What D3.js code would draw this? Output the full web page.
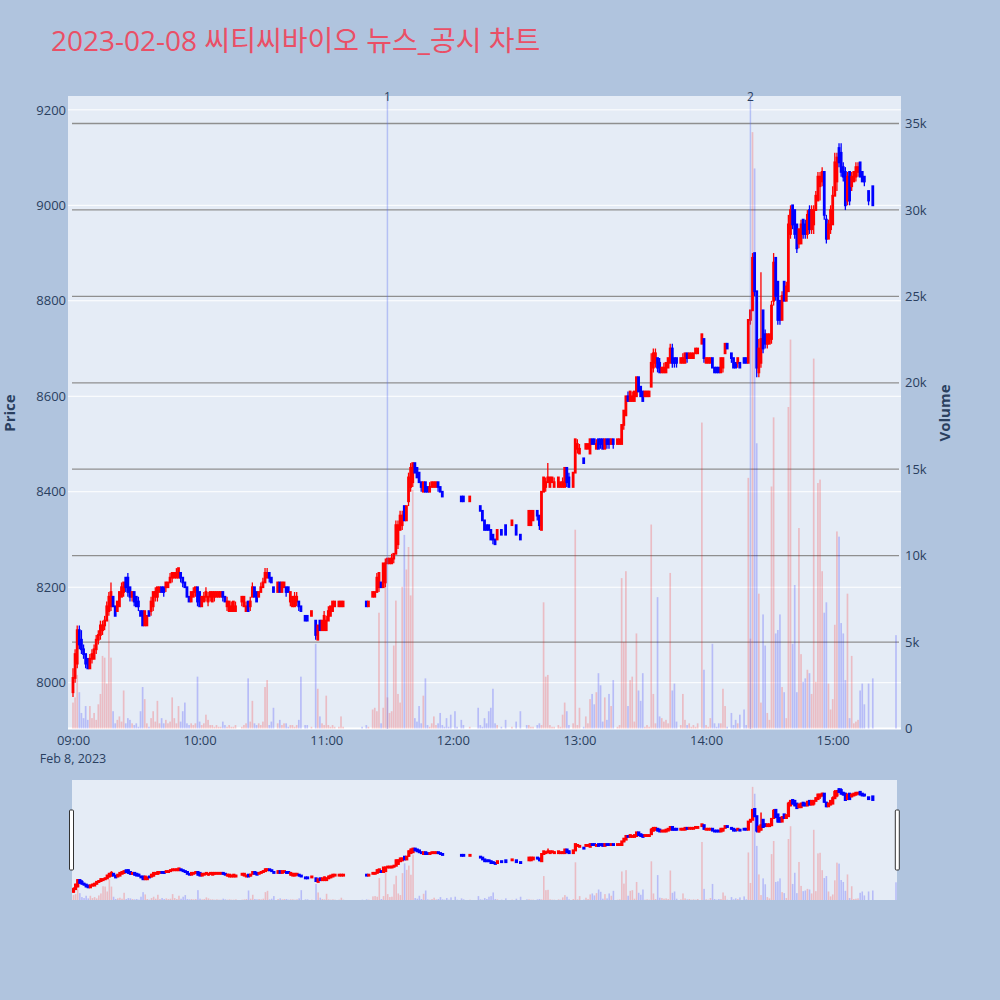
<!DOCTYPE html>
<html><head><meta charset="utf-8">
<script src="https://cdn.jsdelivr.net/npm/d3@7"></script>
<style>
html,body{margin:0;padding:0;background:#b0c4de;}
svg{display:block;font-family:"Open Sans","Noto Sans CJK KR",sans-serif;}
</style></head>
<body><svg id="chart" width="1000" height="1000"></svg>
<script>
// ---- DATA: [time, open, high, low, close, volume] per minute, split by hour ----
const h09 = [
["09:00",7980,8030,7970,8010,1500],["09:01",8010,8070,8000,8060,1800],["09:02",8040,8120,8030,8110,3100],
["09:03",8110,8120,8070,8080,2100],["09:04",8090,8110,8060,8070,900],["09:05",8070,8080,8050,8060,600],
["09:06",8060,8060,8030,8040,1300],["09:07",8050,8050,8030,8030,500],["09:08",8030,8060,8030,8050,1300],
["09:09",8050,8070,8040,8060,600],["09:10",8050,8080,8050,8070,900],["09:11",8070,8100,8060,8090,500],
["09:12",8090,8110,8080,8100,1400],["09:13",8100,8130,8090,8120,2000],["09:14",8110,8130,8100,8120,4200],
["09:15",8120,8140,8110,8130,4100],["09:16",8130,8170,8130,8160,2600],["09:17",8150,8190,8140,8180,6300],
["09:18",8160,8210,8150,8190,4100],["09:19",8180,8180,8160,8160,1000],["09:20",8160,8160,8140,8140,300],
["09:21",8150,8170,8150,8170,500],["09:22",8160,8190,8160,8190,700],["09:23",8180,8210,8180,8200,400],
["09:24",8190,8210,8180,8210,2200],["09:25",8220,8220,8190,8200,300],["09:26",8220,8230,8180,8190,600],
["09:27",8200,8200,8170,8180,500],["09:28",8180,8190,8170,8190,300],["09:29",8190,8190,8160,8170,200],
["09:30",8180,8180,8160,8160,300],["09:31",8170,8180,8150,8160,100],["09:32",8150,8150,8140,8140,1000],
["09:33",8150,8150,8120,8120,2400],["09:34",8120,8150,8120,8150,1700],["09:35",8120,8140,8120,8140,300],
["09:36",8150,8150,8140,8140,100],["09:37",8150,8180,8140,8170,600],["09:38",8160,8190,8150,8190,1000],
["09:39",8180,8200,8170,8190,400],["09:40",8180,8200,8170,8200,1600],["09:41",8190,8200,8190,8200,300],
["09:42",8200,8200,8190,8190,600],["09:43",8200,8200,8180,8190,300],["09:44",8200,8210,8190,8210,500],
["09:45",8200,8210,8200,8210,300],["09:46",8210,8230,8210,8220,400],["09:47",8220,8230,8210,8230,1800],
["09:48",8220,8230,8220,8230,600],["09:49",8220,8240,8220,8230,300],["09:50",8220,8240,8220,8240,1300],
["09:51",8230,8230,8210,8220,400],["09:52",8220,8220,8200,8210,1000],["09:53",8210,8210,8200,8200,1500],
["09:54",8200,8200,8180,8180,300],["09:55",8180,8180,8170,8170,200],["09:56",8170,8190,8170,8190,300],
["09:57",8180,8200,8180,8190,200],["09:58",8190,8200,8180,8200,300],["09:59",8200,8200,8160,8170,3000]
];
const h10 = [
["10:00",8190,8190,8160,8160,400],["10:01",8160,8180,8160,8180,200],["10:02",8170,8190,8170,8180,300],
["10:03",8180,8200,8170,8190,800],["10:04",8170,8190,8160,8180,500],["10:05",8180,8190,8170,8190,200],
["10:06",8170,8190,8170,8190,200],["10:07",8180,8190,8170,8190,100],["10:08",8180,8190,8180,8190,200],
["10:09",8180,8190,8180,8190,100],["10:10",8180,8190,8180,8190,100],["10:11",8190,8190,8170,8180,400],
["10:12",8180,8180,8170,8170,200],["10:13",8160,8180,8150,8170,100],["10:14",8150,8170,8150,8170,200],
["10:15",8150,8170,8150,8160,100],["10:16",8150,8170,8150,8170,100],["10:17",8150,8170,8150,8160,200],
["10:20",8170,8180,8160,8180,100],["10:21",8160,8180,8160,8180,200],["10:22",8150,8170,8150,8160,300],
["10:23",8170,8170,8150,8150,2900],["10:24",8160,8180,8150,8170,400],["10:25",8180,8210,8180,8200,1600],
["10:26",8200,8200,8180,8180,300],["10:27",8190,8190,8170,8170,200],["10:28",8180,8190,8180,8190,300],
["10:29",8190,8210,8190,8200,200],["10:30",8200,8220,8200,8210,400],["10:31",8210,8240,8210,8230,2400],
["10:32",8220,8240,8220,8230,2800],["10:33",8230,8230,8210,8220,200],["10:34",8220,8220,8210,8210,400],
["10:35",8200,8200,8190,8190,1200],["10:37",8190,8210,8190,8210,300],["10:38",8210,8210,8190,8190,500],
["10:39",8190,8210,8190,8210,200],["10:40",8200,8210,8200,8210,300],["10:41",8200,8200,8180,8190,300],
["10:42",8200,8200,8190,8190,100],["10:43",8170,8190,8160,8190,200],["10:44",8160,8180,8160,8180,200],
["10:45",8160,8190,8160,8180,100],["10:46",8170,8190,8160,8180,200],["10:47",8170,8170,8150,8160,500],
["10:48",8160,8160,8150,8150,3000],["10:50",8140,8140,8130,8130,200],["10:51",8140,8140,8130,8130,200],
["10:53",8140,8150,8140,8150,100],["10:55",8130,8130,8090,8100,4900],["10:56",8090,8120,8090,8120,2300],
["10:57",8130,8130,8110,8110,700],["10:58",8110,8130,8110,8130,300],["10:59",8110,8150,8110,8140,200]
];
const h11 = [
["11:00",8110,8140,8110,8130,1900],["11:01",8130,8160,8130,8150,200],["11:02",8140,8160,8140,8160,100],
["11:03",8150,8170,8150,8170,200],["11:04",8160,8170,8160,8170,100],["11:06",8160,8170,8160,8170,100],
["11:07",8160,8170,8160,8170,700],["11:08",8160,8170,8160,8170,100],["11:17",8150,8150,8150,8150,100],
["11:19",8170,8170,8160,8160,200],["11:20",8160,8170,8160,8170,100],["11:22",8180,8190,8180,8190,1100],
["11:23",8180,8190,8180,8190,1200],["11:24",8190,8230,8190,8220,1000],["11:25",8200,8230,8190,8230,6700],
["11:26",8210,8210,8200,8200,300],["11:27",8200,8250,8200,8250,1200],["11:28",8210,8260,8200,8250,8400],
["11:29",8250,8260,8250,8260,1800],["11:30",8250,8260,8250,8260,900],["11:31",8250,8270,8250,8260,1000],
["11:32",8260,8270,8250,8270,4800],["11:33",8270,8340,8270,8330,7400],["11:34",8290,8340,8280,8330,2000],
["11:35",8320,8360,8320,8350,1500],["11:36",8330,8360,8320,8350,8200],["11:37",8370,8370,8340,8340,11200],
["11:38",8340,8370,8340,8370,9200],["11:39",8380,8440,8370,8430,10500],["11:40",8410,8460,8400,8450,7700],
["11:41",8420,8460,8410,8460,13800],["11:42",8460,8460,8440,8440,600],["11:43",8450,8450,8430,8430,400],
["11:44",8440,8440,8420,8420,1300],["11:45",8420,8420,8400,8410,300],["11:46",8400,8420,8400,8420,1900],
["11:47",8420,8420,8400,8400,2900],["11:48",8410,8410,8400,8400,200],["11:49",8400,8420,8400,8410,100],
["11:50",8410,8420,8410,8420,300],["11:51",8410,8420,8410,8420,700],["11:52",8410,8420,8410,8420,200],
["11:53",8420,8420,8400,8410,300],["11:54",8410,8410,8400,8400,900],["11:55",8400,8400,8390,8390,200],
["11:56",8400,8400,8400,8400,100],["11:57",8400,8400,8400,8400,600],["11:58",8400,8400,8400,8400,100],
["11:59",8400,8400,8400,8400,800]
];
const h12 = [
["12:01",8390,8390,8390,8390,1000],["12:02",8390,8390,8390,8390,100],["12:04",8390,8390,8380,8380,500],
["12:05",8390,8390,8380,8380,200],["12:08",8380,8390,8380,8390,100],["12:12",8380,8380,8380,8380,1200],
["12:13",8370,8370,8360,8360,200],["12:14",8360,8360,8340,8340,100],["12:15",8340,8340,8320,8320,600],
["12:16",8330,8330,8320,8320,300],["12:17",8330,8330,8320,8320,1000],["12:18",8320,8320,8300,8300,1200],
["12:19",8310,8310,8290,8300,2300],["12:20",8300,8300,8290,8290,300],["12:21",8300,8320,8300,8320,200],
["12:23",8320,8320,8310,8310,100],["12:25",8330,8330,8310,8310,500],["12:28",8330,8340,8330,8340,100],
["12:30",8330,8330,8310,8310,400],["12:32",8310,8310,8300,8300,1000],["12:35",8300,8300,8300,8300,200],
["12:36",8330,8360,8330,8360,200],["12:37",8330,8360,8330,8360,100],["12:38",8340,8360,8340,8360,100],
["12:40",8360,8360,8340,8350,200],["12:41",8350,8350,8320,8330,300],["12:42",8320,8400,8320,8400,200],
["12:43",8400,8430,8400,8430,7300],["12:44",8410,8430,8400,8420,3000],["12:45",8420,8460,8420,8430,3100],
["12:46",8410,8430,8410,8430,200],["12:47",8420,8430,8420,8430,100],["12:48",8410,8430,8410,8420,100],
["12:50",8410,8430,8410,8430,200],["12:51",8410,8420,8410,8420,100],["12:52",8410,8430,8410,8420,800],
["12:53",8410,8450,8410,8450,1500],["12:54",8450,8450,8410,8420,1000],["12:55",8430,8440,8410,8410,200],
["12:57",8410,8440,8410,8440,300],["12:58",8440,8510,8440,8510,11500],["12:59",8490,8510,8480,8500,200]
];
const h13 = [
["13:00",8480,8500,8480,8490,1200],["13:02",8470,8470,8460,8460,100],["13:03",8490,8500,8490,8500,700],
["13:04",8490,8500,8490,8500,300],["13:05",8480,8510,8480,8510,1700],["13:06",8510,8510,8500,8500,2000],
["13:07",8510,8510,8500,8500,1400],["13:08",8490,8510,8490,8500,2100],["13:09",8510,8510,8490,8490,3200],
["13:10",8510,8510,8490,8500,2500],["13:11",8510,8510,8490,8490,400],["13:12",8490,8510,8490,8510,1800],
["13:13",8510,8510,8490,8500,500],["13:14",8510,8510,8490,8500,2000],["13:15",8500,8510,8500,8510,1300],
["13:16",8510,8510,8490,8500,2800],["13:18",8500,8510,8500,8510,100],["13:19",8500,8510,8500,8510,200],
["13:20",8500,8540,8500,8540,8700],["13:21",8540,8570,8530,8570,5000],["13:22",8560,8600,8560,8600,9100],
["13:23",8600,8610,8590,8590,1300],["13:24",8590,8610,8590,8610,2800],["13:25",8590,8610,8590,8600,3000],
["13:26",8590,8610,8590,8610,400],["13:27",8600,8640,8600,8640,5500],["13:28",8640,8640,8610,8610,2200],
["13:29",8620,8620,8600,8600,1600],["13:30",8610,8610,8590,8590,3200],["13:31",8600,8610,8600,8610,100],
["13:32",8600,8610,8600,8610,200],["13:33",8600,8610,8600,8610,100],["13:34",8620,8690,8620,8670,11800],
["13:35",8660,8700,8650,8690,2000],["13:36",8670,8700,8660,8690,300],["13:37",8680,8680,8650,8660,7600],
["13:38",8670,8680,8650,8650,700],["13:39",8650,8660,8650,8660,600],["13:40",8650,8670,8650,8660,400],
["13:41",8650,8670,8650,8670,500],["13:42",8660,8680,8660,8680,300],["13:43",8670,8710,8670,8700,9000],
["13:44",8700,8710,8660,8670,2200],["13:45",8680,8680,8660,8670,2600],["13:46",8680,8680,8660,8670,400],
["13:48",8670,8680,8670,8680,200],["13:49",8670,8690,8670,8680,2000],["13:50",8670,8690,8670,8690,500],
["13:51",8690,8690,8670,8680,200],["13:52",8680,8690,8680,8690,300],["13:53",8680,8690,8680,8690,100],
["13:54",8680,8690,8680,8690,200],["13:55",8690,8700,8690,8700,100],["13:56",8690,8700,8690,8700,300],
["13:58",8710,8730,8710,8730,17700],["13:59",8720,8720,8670,8680,3400]
];
const h14 = [
["14:00",8670,8680,8670,8680,200],["14:01",8670,8680,8670,8680,100],["14:02",8670,8680,8670,8680,600],
["14:03",8680,8680,8660,8660,4900],["14:04",8660,8660,8650,8650,300],["14:05",8660,8660,8650,8650,100],
["14:06",8660,8660,8650,8650,300],["14:07",8650,8680,8650,8680,300],["14:08",8660,8680,8650,8680,2300],
["14:09",8690,8710,8690,8710,1300],["14:10",8710,8710,8700,8700,100],["14:12",8690,8690,8670,8680,900],
["14:13",8680,8680,8660,8660,200],["14:14",8670,8670,8660,8660,500],["14:15",8670,8680,8660,8680,300],
["14:16",8670,8670,8660,8660,800],["14:18",8680,8680,8670,8670,1100],["14:19",8680,8680,8670,8670,200],
["14:20",8670,8760,8670,8760,14500],["14:21",8760,8780,8750,8780,5200],["14:22",8780,8900,8780,8890,34500],
["14:23",8900,8900,8810,8820,32400],["14:24",8820,8820,8640,8660,16500],["14:25",8650,8720,8640,8700,7800],
["14:26",8670,8860,8660,8720,1500],["14:27",8780,8780,8690,8700,6600],["14:28",8730,8740,8700,8710,4800],
["14:29",8710,8730,8700,8730,900],["14:30",8710,8730,8710,8730,500],["14:31",8720,8800,8710,8790,14000],
["14:32",8800,8900,8790,8880,18000],["14:33",8890,8890,8800,8810,5500],["14:34",8840,8840,8750,8760,5700],
["14:35",8800,8800,8750,8760,6600],["14:36",8760,8820,8760,8810,2400],["14:37",8840,8840,8800,8800,2100],
["14:38",8800,8840,8800,8830,600],["14:39",8820,8980,8820,8960,18600],["14:40",8940,9000,8930,8990,22500],
["14:41",9000,9000,8950,8960,4900],["14:42",8990,8990,8930,8940,8300],["14:43",8960,8960,8900,8910,2100],
["14:44",8920,8950,8910,8950,11600],["14:45",8920,8970,8920,8960,4300],["14:46",8970,8970,8930,8940,2700],
["14:47",8960,8970,8930,8940,2900],["14:48",8940,8990,8930,8980,3400],["14:49",8990,9000,8940,8950,3200],
["14:50",8950,9000,8940,8990,2000],["14:51",8960,9000,8940,8990,21400],["14:52",8990,9030,8990,9020,2700],
["14:53",9010,9070,9010,9060,14200],["14:54",9040,9070,9010,9060,14400],["14:55",9050,9080,9040,9070,9100],
["14:56",9070,9070,8970,8980,6700],["14:57",8970,8980,8920,8930,7300],["14:58",8930,8970,8930,8960,2600],
["14:59",8950,9000,8940,8990,1100]
];
const h15 = [
["15:00",8960,9040,8960,9020,1700],["15:01",9020,9110,9020,9090,6000],["15:02",9050,9110,9030,9100,11400],
["15:03",9120,9130,9080,9090,11100],["15:04",9110,9130,9060,9070,6100],["15:05",9080,9090,9050,9060,5500],
["15:06",9070,9080,8990,9000,2800],["15:07",9010,9070,9000,9060,7800],["15:08",9070,9070,9000,9010,600],
["15:09",9040,9070,9030,9060,4200],["15:10",9050,9070,9050,9070,300],["15:11",9060,9090,9050,9080,400],
["15:12",9070,9090,9060,9080,500],["15:13",9090,9090,9060,9060,2200],["15:14",9070,9070,9050,9050,2600],
["15:15",9060,9060,9040,9050,1400],["15:17",9030,9030,9000,9010,2600],["15:19",9040,9040,9000,9000,2900],
["15:30",9000,9000,9000,9000,5400]
];
const priceTicks = [8000, 8200, 8400, 8600, 8800, 9000, 9200];
const volumeTicks = [0, 5000, 10000, 15000, 20000, 25000, 30000, 35000];
const volumeTickLabels = ["0", "5k", "10k", "15k", "20k", "25k", "30k", "35k"];
const hourTicks = ["09:00", "10:00", "11:00", "12:00", "13:00", "14:00", "15:00"];
const newsTimes = ["11:29", "14:21"];
const newsLabels = ["1", "2"];
const titleText = "2023-02-08 씨티씨바이오 뉴스_공시 차트";

// ---- BUILD ----
const T = s => { const [h, m] = s.split(":").map(Number); return new Date(2023, 1, 8, h, m); };
const rows = [...h09, ...h10, ...h11, ...h12, ...h13, ...h14, ...h15].map(r => ({
  t: T(r[0]), o: r[1], h: r[2], l: r[3], c: r[4], v: r[5]
}));
const UP = "#ff0000", DOWN = "#0000ff";
const col = d => d.c > d.o ? UP : DOWN;
const FONT = '"Open Sans","Noto Sans CJK KR",sans-serif';

const svg = d3.select("#chart");
const P = { l: 68, r: 901, t: 96, b: 729 };

const x = d3.scaleTime().domain([new Date(2023,1,8,8,57,38), new Date(2023,1,8,15,32,22)]).range([P.l, P.r]);
const y = d3.scaleLinear().domain([7903, 9229]).range([P.b, P.t]);
const yv = d3.scaleLinear().domain([0, 36590]).range([728.5, P.t]);

svg.append("rect").attr("width", 1000).attr("height", 1000).attr("fill", "#b0c4de");

// title
svg.append("text").attr("x", 51).attr("y", 51).attr("font-size", 28)
  .attr("fill", "#ea4f66").text(titleText);

// plot bg
svg.append("rect").attr("x", P.l).attr("y", P.t).attr("width", P.r - P.l).attr("height", P.b - P.t).attr("fill", "#e5ecf6");

// price grid (white)
svg.append("g").selectAll("line").data(priceTicks).join("line")
  .attr("x1", P.l).attr("x2", P.r).attr("y1", d => y(d)).attr("y2", d => y(d))
  .attr("stroke", "#fff").attr("stroke-width", 1);
// volume grid (gray)
svg.append("g").selectAll("line").data(volumeTicks.slice(1)).join("line")
  .attr("x1", P.l + 4).attr("x2", P.r - 2).attr("y1", d => yv(d)).attr("y2", d => yv(d))
  .attr("stroke", "#8f8f8f").attr("stroke-width", 1.3);
// volume zero line
svg.append("line").attr("x1", P.l).attr("x2", P.r).attr("y1", yv(0)).attr("y2", yv(0))
  .attr("stroke", "#fff").attr("stroke-width", 2);

function drawVolume(g, xs, ys, bw) {
  g.selectAll("rect.vol").data(rows).join("rect").attr("class", "vol")
    .attr("x", d => xs(d.t) - bw / 2).attr("width", bw)
    .attr("y", d => ys(d.v)).attr("height", d => ys(0) - ys(d.v))
    .attr("fill", d => col(d)).attr("fill-opacity", 0.2);
}
function drawCandles(g, xs, ys, bodyW, sw, ww) {
  const c = g.selectAll("g.c").data(rows).join("g").attr("class", "c");
  c.append("line").attr("x1", d => xs(d.t)).attr("x2", d => xs(d.t))
    .attr("y1", d => ys(d.h)).attr("y2", d => ys(d.l))
    .attr("stroke", col).attr("stroke-width", ww);
  c.append("rect").attr("x", d => xs(d.t) - bodyW / 2).attr("width", bodyW)
    .attr("y", d => ys(Math.max(d.o, d.c))).attr("height", d => Math.abs(ys(d.o) - ys(d.c)))
    .attr("fill", col).attr("stroke", col).attr("stroke-width", sw);
}

const gMain = svg.append("g");
drawVolume(gMain.append("g"), x, yv, 1.7);
drawCandles(gMain.append("g"), x, y, 1.0, 1.8, 1.3);

// news lines
const gNews = svg.append("g");
newsTimes.forEach((t, i) => {
  gNews.append("line").attr("x1", x(T(t))).attr("x2", x(T(t))).attr("y1", P.t).attr("y2", P.b)
    .attr("stroke", "#5a6ff0").attr("stroke-opacity", 0.35).attr("stroke-width", 1.5);
  gNews.append("text").attr("x", x(T(t))).attr("y", 101).attr("text-anchor", "middle")
    .attr("font-size", 12).attr("fill", "#2a3f5f").text(newsLabels[i]);
});

// axes
const axStyle = g => { g.select(".domain").remove(); g.selectAll("text").attr("fill", "#2a3f5f").attr("font-size", 13)
  .attr("font-family", FONT); };
svg.append("g").attr("transform", `translate(${P.l},0)`)
  .call(d3.axisLeft(y).tickValues(priceTicks).tickFormat(d3.format("d")).tickSize(0).tickPadding(2)).call(axStyle);
svg.append("g").attr("transform", `translate(${P.r},0)`)
  .call(d3.axisRight(yv).tickValues(volumeTicks).tickFormat((d, i) => volumeTickLabels[i]).tickSize(0).tickPadding(4))
  .call(axStyle);
svg.append("g").attr("transform", `translate(0,${P.b})`)
  .call(d3.axisBottom(x).tickValues(hourTicks.map(T)).tickFormat(d3.timeFormat("%H:%M")).tickSize(0).tickPadding(7))
  .call(axStyle);
svg.append("text").attr("x", x(T(hourTicks[0]))).attr("y", 763).attr("text-anchor", "middle")
  .attr("font-size", 12.5).attr("fill", "#2a3f5f").text("Feb 8, 2023");

// axis titles
svg.append("text").attr("transform", "translate(15,413) rotate(-90)").attr("text-anchor", "middle")
  .attr("font-size", 15).attr("font-weight", "bold").attr("fill", "#2a3f5f").text("Price");
svg.append("text").attr("transform", "translate(950,413) rotate(-90)").attr("text-anchor", "middle")
  .attr("font-size", 15).attr("font-weight", "bold").attr("fill", "#2a3f5f").text("Volume");

// range slider
const S = { l: 72, r: 897, t: 780, b: 900 };
svg.append("rect").attr("x", S.l).attr("y", S.t).attr("width", S.r - S.l).attr("height", S.b - S.t).attr("fill", "#e5ecf6");
svg.append("defs").append("clipPath").attr("id", "sclip").append("rect")
  .attr("x", S.l).attr("y", S.t).attr("width", S.r - S.l).attr("height", S.b - S.t);
const sx = d3.scaleTime().domain([T("09:00"), T("15:30")]).range([73.5, 896]);
const sy = d3.scaleLinear().domain([7889, 9222]).range([S.b, S.t]);
const syv = d3.scaleLinear().domain([0, 36590]).range([S.b, S.t]);
const gS = svg.append("g").attr("clip-path", "url(#sclip)");
drawVolume(gS.append("g"), sx, syv, 1.6);
drawCandles(gS.append("g"), sx, sy, 1.2, 2, 1.5);
[[69.5, 810], [895.3, 810]].forEach(([hx, hy]) => {
  svg.append("rect").attr("x", hx).attr("y", hy).attr("width", 4).attr("height", 60).attr("rx", 1)
    .attr("fill", "#fff").attr("stroke", "#333").attr("stroke-width", 1);
});
</script>
</body></html>
